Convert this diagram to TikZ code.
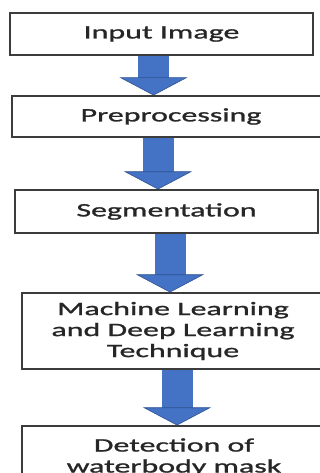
\documentclass[tikz,border=0pt]{standalone}
\usepackage{fontspec}
\setmainfont[FakeStretch=1.68,FakeBold=1.2]{Carlito}
\usetikzlibrary{arrows.meta}
\definecolor{flowblue}{HTML}{4472C4}
\definecolor{flowedge}{HTML}{2F528F}
\definecolor{boxline}{HTML}{3C3C3C}
\definecolor{boxtext}{HTML}{262626}

\begin{document}
\begin{tikzpicture}[x=1pt,y=-1pt]
  \tikzstyle{stage}=[draw=boxline,line width=1.2pt,fill=white,align=center,text=boxtext,inner sep=0pt,font=\fontsize{19}{21}\selectfont]
  \tikzstyle{blockarrow}=[draw=flowblue,line width=31pt,-{Triangle[width=68pt,length=18pt,fill=flowblue,color=flowedge,line width=0.6pt]}]
  \useasboundingbox (0,0) rectangle (320,473);
  \clip (0,0) rectangle (320,473);
  \node[stage,minimum width=303pt,minimum height=42pt] (input) at (161.5,34) {Input Image};
  \node[stage,minimum width=318pt,minimum height=41pt] (prep) at (171,116.5) {Preprocessing};
  \node[stage,minimum width=303pt,minimum height=43pt] (seg) at (166.5,211.5) {Segmentation};
  \node[stage,minimum width=302pt,minimum height=76pt] (mldl) at (173,331) {Machine Learning\\and Deep Learning\\Technique};
  \node[stage,minimum width=304pt,minimum height=62pt] (mask) at (174,457) {Detection of\\waterbody mask};
  % arrows between the stages
  \draw[blockarrow] ([xshift=-8pt]input.south) -- ([xshift=-17.5pt]prep.north);
  \draw[blockarrow] ([xshift=-13pt]prep.south) -- ([xshift=-8.5pt]seg.north);
  \draw[blockarrow] ([xshift=3.5pt]seg.south) -- ([xshift=-3pt]mldl.north);
  \draw[blockarrow] ([xshift=4pt]mldl.south) -- ([xshift=3pt]mask.north);
\end{tikzpicture}
\end{document}
